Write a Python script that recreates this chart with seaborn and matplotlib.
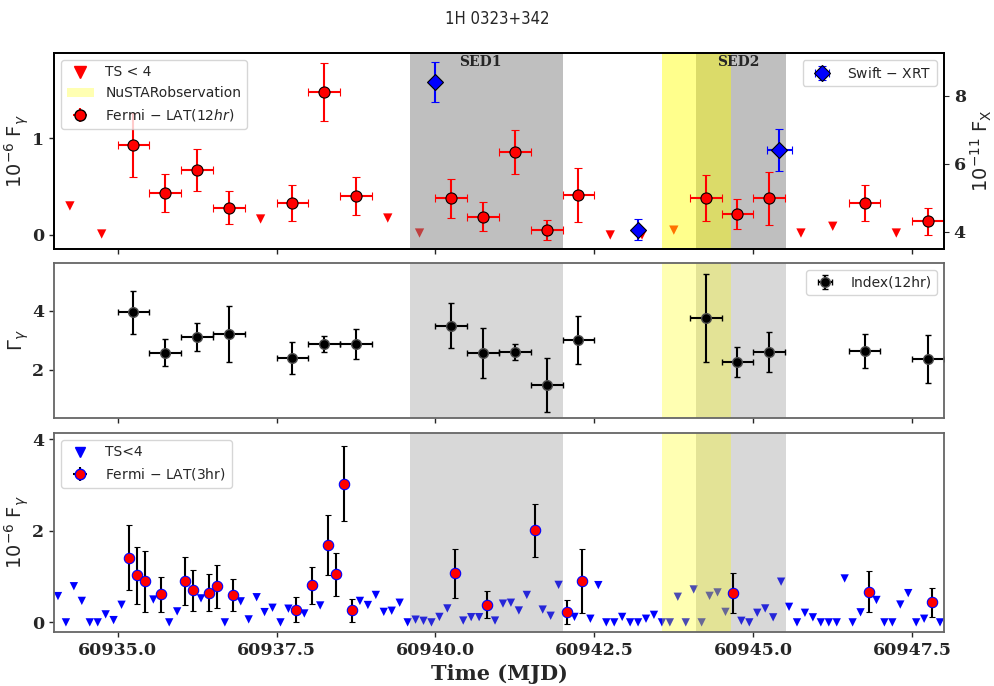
import numpy as np
import pandas as pd
import matplotlib
matplotlib.use('Agg')
import matplotlib.pyplot as plt
import matplotlib.transforms as mtransforms
from matplotlib.patches import Patch
from matplotlib.lines import Line2D
import seaborn as sns

# ---------------- data ----------------
# Fermi-LAT 12 hr bins (detections)
t12 = [60935.25, 60935.75, 60936.25, 60936.75, 60937.75, 60938.25, 60938.75,
       60940.25, 60940.75, 60941.25, 60941.75, 60942.25, 60944.25, 60944.75,
       60945.25, 60946.75, 60947.75]
f12 = [0.93, 0.43, 0.67, 0.28, 0.33, 1.48, 0.40, 0.38, 0.19, 0.86, 0.05, 0.41,
       0.38, 0.22, 0.38, 0.33, 0.14]
f12_err = [0.33, 0.195, 0.22, 0.17, 0.185, 0.30, 0.195, 0.20, 0.15, 0.225, 0.10,
           0.28, 0.24, 0.155, 0.275, 0.185, 0.14]
# photon index, 12 hr bins
idx12 = [3.94, 2.58, 3.12, 3.21, 2.40, 2.875, 2.87, 3.49, 2.57, 2.60, 1.49, 3.0,
         3.75, 2.26, 2.60, 2.63, 2.36]
idx12_err = [0.73, 0.45, 0.47, 0.93, 0.53, 0.28, 0.50, 0.75, 0.83, 0.27, 0.90,
             0.81, 1.47, 0.50, 0.66, 0.57, 0.80]
BIN12_HALF = 0.25
# 12 hr upper limits (TS<4)
t12_ul = [60934.25, 60934.75, 60937.25, 60939.25, 60939.75, 60942.75, 60943.25,
          60943.75, 60945.75, 60946.25, 60947.25]
f12_ul = [0.30, 0.01, 0.165, 0.175, 0.02, 0.0, 0.0, 0.05, 0.02, 0.09, 0.02]

# Swift-XRT
t_xrt = [60939.99, 60943.18, 60945.41]
t_xrt_err = [0.01, 0.03, 0.2]
f_xrt = [8.41, 4.07, 6.41]
f_xrt_err = [0.59, 0.32, 0.62]

# Fermi-LAT 3 hr bins (detections)
t3 = [60935.1875, 60935.3125, 60935.4375, 60935.6875, 60936.0625, 60936.1875,
      60936.4375, 60936.5625, 60936.8125, 60937.8125, 60938.0625, 60938.3125,
      60938.4375, 60938.5625, 60938.6875, 60940.3125, 60940.8125, 60941.5625,
      60942.0625, 60942.3125, 60944.6875, 60946.8125, 60947.8125]
f3 = [1.41, 1.03, 0.90, 0.61, 0.91, 0.70, 0.65, 0.79, 0.60, 0.28, 0.81, 1.69,
      1.055, 3.03, 0.26, 1.07, 0.39, 2.01, 0.225, 0.90, 0.65, 0.67, 0.44]
f3_err = [0.71, 0.62, 0.67, 0.39, 0.52, 0.45, 0.41, 0.47, 0.35, 0.28, 0.41, 0.65,
          0.47, 0.82, 0.25, 0.53, 0.29, 0.575, 0.26, 0.70, 0.44, 0.45, 0.32]
# 3 hr upper limits (TS<4)
t3_ul = [60934.0625, 60934.1875, 60934.3125, 60934.4375, 60934.5625, 60934.6875,
         60934.8125, 60934.9375, 60935.0625, 60935.5625, 60935.8125, 60935.9375,
         60936.3125, 60936.6875, 60936.9375, 60937.0625, 60937.1875, 60937.3125,
         60937.4375, 60937.5625, 60937.6875, 60937.9375, 60938.1875, 60938.8125,
         60938.9375, 60939.0625, 60939.1875, 60939.3125, 60939.4375, 60939.5625,
         60939.6875, 60939.8125, 60939.9375, 60940.0625, 60940.1875, 60940.4375,
         60940.5625, 60940.6875, 60940.9375, 60941.0625, 60941.1875, 60941.3125,
         60941.4375, 60941.6875, 60941.8125, 60941.9375, 60942.1875, 60942.4375,
         60942.5625, 60942.6875, 60942.8125, 60942.9375, 60943.0625, 60943.1875,
         60943.3125, 60943.4375, 60943.5625, 60943.6875, 60943.8125, 60943.9375,
         60944.0625, 60944.1875, 60944.3125, 60944.4375, 60944.5625, 60944.8125,
         60944.9375, 60945.0625, 60945.1875, 60945.3125, 60945.4375, 60945.5625,
         60945.6875, 60945.8125, 60945.9375, 60946.0625, 60946.1875, 60946.3125,
         60946.4375, 60946.5625, 60946.6875, 60946.9375, 60947.0625, 60947.1875,
         60947.3125, 60947.4375, 60947.5625, 60947.6875, 60947.9375, 60948.0625]
f3_ul = [0.575, 0.0, 0.79, 0.47, 0.0, 0.0, 0.175, 0.05, 0.385, 0.50, 0.0, 0.24,
         0.525, 0.0, 0.46, 0.065, 0.55, 0.225, 0.32, 0.0, 0.30, 0.195, 0.37, 0.47,
         0.38, 0.60, 0.23, 0.255, 0.43, 0.0, 0.06, 0.035, 0.0, 0.12, 0.305, 0.04,
         0.115, 0.115, 0.04, 0.41, 0.43, 0.26, 0.60, 0.28, 0.145, 0.82, 0.12, 0.08,
         0.815, 0.0, 0.0, 0.12, 0.0, 0.0, 0.08, 0.165, 0.0, 0.0, 0.56, 0.0, 0.72,
         0.0, 0.58, 0.655, 0.23, 0.035, 0.0, 0.21, 0.305, 0.11, 0.89, 0.34, 0.0,
         0.21, 0.11, 0.0, 0.0, 0.0, 0.96, 0.0, 0.22, 0.49, 0.0, 0.0, 0.39, 0.64,
         0.0, 0.08, 0.0, 0.12]

# shaded intervals
sed1 = (60939.6, 60942.0)
sed2 = (60944.1, 60945.52)
nustar = (60943.57, 60944.65)

xticks = [60935.0, 60937.5, 60940.0, 60942.5, 60945.0, 60947.5]
xlim = (60934.0, 60948.0)

# ---------------- style ----------------
sns.set_style('ticks')
plt.rcParams['font.family'] = ['DejaVu Sans']
plt.rcParams['mathtext.fontset'] = 'dejavusans'

serif_bold = dict(family='DejaVu Serif', weight='bold')

fig = plt.figure(figsize=(9.94, 6.86), dpi=100)
L, W = 54 / 994, (944 - 54) / 994
def fy(top, bot):
    return [L, 1 - bot / 686, W, (bot - top) / 686]
ax1 = fig.add_axes(fy(53, 249))
ax2 = fig.add_axes(fy(263, 418))
ax3 = fig.add_axes(fy(433, 632))

fig.suptitle('1H 0323+342', y=0.985, fontsize=12, fontstretch='condensed')

# ---------- top panel ----------
df_ul12 = pd.DataFrame({'t': t12_ul, 'f': f12_ul})
sns.scatterplot(data=df_ul12, x='t', y='f', marker='v', color='red', s=45,
                edgecolor='none', linewidth=0, ax=ax1, legend=False, zorder=1)
for a, b in (sed1, sed2):
    ax1.axvspan(a, b, color='grey', alpha=0.5, lw=0, zorder=1)
ax1.axvspan(*nustar, color='yellow', alpha=0.45, lw=0, zorder=1)
ax1.errorbar(t12, f12, yerr=f12_err, xerr=BIN12_HALF, fmt='o', color='red',
             mfc='red', mec='black', ms=8, mew=0.8, capsize=3, elinewidth=1.5,
             capthick=1.2, zorder=2)
ax1.set_xlim(*xlim)
ax1.set_ylim(-0.145, 1.88)
ax1.set_yticks([0, 1])

h_tri = Line2D([], [], marker='v', color='red', ls='none', ms=8)
h_nu = Patch(facecolor='yellow', alpha=0.3, edgecolor='none')
h_f12 = ax1.errorbar([], [], yerr=[], xerr=[], fmt='o', color='red', mfc='red',
                     mec='black', ms=8, capsize=3)
ax1.legend([h_tri, h_nu, h_f12],
           ['TS < 4', 'NuSTARobservation', 'Fermi $-$ LAT(12$hr$)'],
           loc='upper left', fontsize=10, frameon=True)

trans1 = mtransforms.blended_transform_factory(ax1.transData, ax1.transAxes)
ax1.text(60940.71, 0.99, 'SED1', transform=trans1, ha='center', va='top',
         fontsize=10, **serif_bold)
ax1.text(60944.76, 0.99, 'SED2', transform=trans1, ha='center', va='top',
         fontsize=10, **serif_bold)

ax1b = ax1.twinx()
ax1b.errorbar(t_xrt, f_xrt, yerr=f_xrt_err, xerr=t_xrt_err, fmt='D', color='blue',
              mfc='blue', mec='black', ms=8, mew=0.8, capsize=3, elinewidth=1.5,
              label='Swift $-$ XRT')
ax1b.set_ylim(3.5, 9.26)
ax1b.set_yticks([4, 6, 8])
ax1b.legend(loc='upper right', fontsize=10)
ax1b.set_ylabel('$10^{-11}$ F$_{\\rm X}$', fontsize=14, labelpad=2)
ax1.set_ylabel('$10^{-6}$ F$_\\gamma$', fontsize=14, labelpad=1)

# ---------- middle panel ----------
for a, b in (sed1, sed2):
    ax2.axvspan(a, b, color='grey', alpha=0.3, lw=0, zorder=1)
ax2.axvspan(*nustar, color='yellow', alpha=0.3, lw=0, zorder=1)
ax2.errorbar(t12, idx12, yerr=idx12_err, xerr=BIN12_HALF, fmt='o', color='black',
             mfc='black', mec='0.3', ms=7, capsize=2, elinewidth=1.5,
             label='Index(12hr)', zorder=2)
ax2.set_xlim(*xlim)
ax2.set_ylim(0.38, 5.6)
ax2.set_yticks([2, 4])
ax2.legend(loc='upper right', fontsize=10)
ax2.set_ylabel('$\\Gamma_\\gamma$', fontsize=14, labelpad=1)

# ---------- bottom panel ----------
df_ul3 = pd.DataFrame({'t': t3_ul, 'f': f3_ul})
sns.scatterplot(data=df_ul3, x='t', y='f', marker='v', color='blue', s=36,
                edgecolor='none', linewidth=0, ax=ax3, legend=False, zorder=1)
for a, b in (sed1, sed2):
    ax3.axvspan(a, b, color='grey', alpha=0.3, lw=0, zorder=1)
ax3.axvspan(*nustar, color='yellow', alpha=0.3, lw=0, zorder=1)
ax3.errorbar(t3, f3, yerr=f3_err, fmt='o', color='red', mfc='red', mec='blue',
             ecolor='black', ms=7.5, mew=0.8, capsize=2.5, elinewidth=1.5,
             zorder=2)
h_tri3 = Line2D([], [], marker='v', color='blue', ls='none', ms=7)
h_f3 = ax3.errorbar([], [], yerr=[], xerr=[], fmt='o', color='red', mfc='red',
                    mec='blue', ecolor='black', ms=7.5, capsize=2.5)
ax3.legend([h_tri3, h_f3], ['TS<4', 'Fermi $-$ LAT(3hr)'], loc='upper left',
           fontsize=10)
ax3.set_xlim(*xlim)
ax3.set_ylim(-0.21, 4.14)
ax3.set_yticks([0, 2, 4])
ax3.set_ylabel('$10^{-6}$ F$_\\gamma$', fontsize=14, labelpad=1)
ax3.set_xlabel('Time (MJD)', fontsize=15, **serif_bold)

# ---------- axes cosmetics ----------
for ax in (ax1, ax2, ax3):
    ax.set_xticks(xticks)
    ax.tick_params(axis='both', direction='out', length=3.5, width=1)
for ax in (ax1, ax2):
    ax.set_xticklabels([])
ax3.set_xticklabels([f'{v:.1f}' for v in xticks])
for ax in (ax1, ax2, ax3, ax1b):
    for lab in ax.get_xticklabels() + ax.get_yticklabels():
        lab.set_fontfamily('DejaVu Serif')
        lab.set_fontweight('bold')
        lab.set_fontsize(12.5)
for sp in ax1.spines.values():
    sp.set_color('black'); sp.set_linewidth(1.3)
for sp in ax1b.spines.values():
    sp.set_color('black'); sp.set_linewidth(1.3)
for ax in (ax2, ax3):
    for sp in ax.spines.values():
        sp.set_color('0.4'); sp.set_linewidth(1.3)

fig.savefig('out.png', dpi=100)
